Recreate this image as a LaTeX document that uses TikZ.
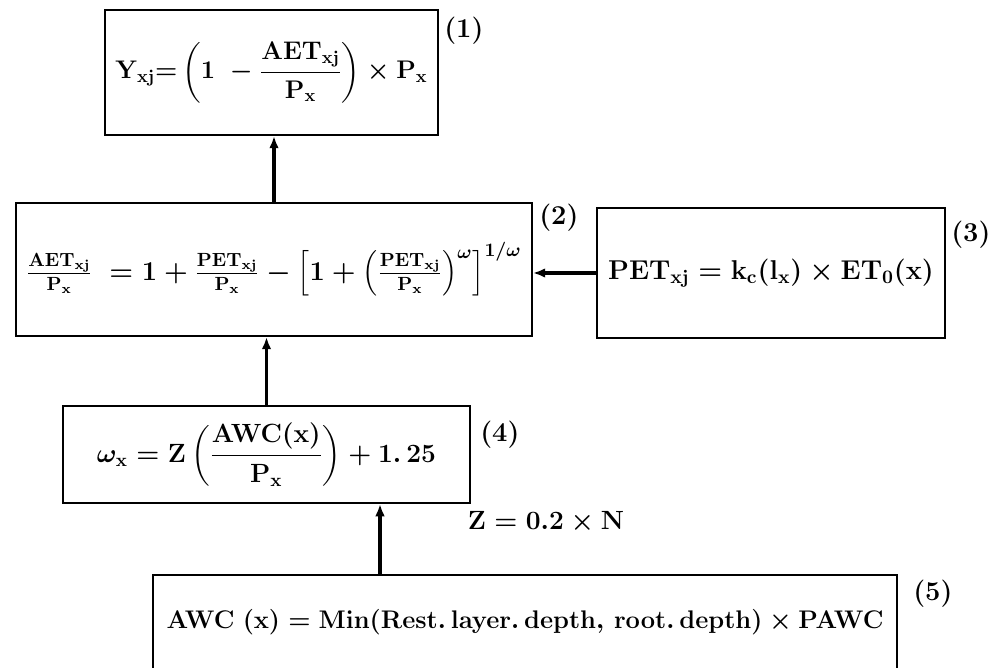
\RequirePackage{fix-cm}
\documentclass[tikz,border=0pt]{standalone}
\usepackage{amsmath}
\usetikzlibrary{arrows.meta,positioning,calc}

\tikzset{
  eqbox/.style={draw, line width=1.1pt, inner sep=0pt, align=center},
  flow/.style={line width=1.8pt, -{Latex[length=7pt,width=5.5pt]}},
  tag/.style={font=\fontsize{15.5}{18}\selectfont\bfseries, inner sep=0pt, anchor=north west},
}

\begin{document}
\begin{tikzpicture}[x=0.02cm,y=-0.02cm]
  \useasboundingbox (0,0) rectangle (1001,668);

  % equation boxes
  \node[eqbox, font=\fontsize{14.5}{17}\selectfont\boldmath,
        minimum width=6.66cm, minimum height=2.5cm] (b1) at (271.5,72.5)
    {$\mathbf{Y_{xj}}{=}\left(\mathbf{1}\ -\dfrac{\mathbf{AET_{xj}}}{\mathbf{P_x}}\right)\times\mathbf{P_x}$};
  \node[eqbox, font=\fontsize{15.5}{18}\selectfont\boldmath,
        minimum width=10.32cm, minimum height=2.66cm] (b2) at (274,269.5)
    {$\tfrac{\mathbf{AET_{xj}}}{\mathbf{P_x}}\ =1+\tfrac{\mathbf{PET_{xj}}}{\mathbf{P_x}}-\left[1+\left(\tfrac{\mathbf{PET_{xj}}}{\mathbf{P_x}}\right)^{\omega}\right]^{1/\omega}$};
  \node[eqbox, font=\fontsize{15.5}{18}\selectfont\boldmath,
        minimum width=6.96cm, minimum height=2.6cm] (b3) at (771,273)
    {$\mathbf{PET_{xj}}=\mathbf{k_c}(\mathbf{l_x})\times\mathbf{ET_0}(\mathbf{x})$};
  \node[eqbox, font=\fontsize{15}{18}\selectfont\boldmath,
        minimum width=8.14cm, minimum height=1.94cm] (b4) at (266.5,454.5)
    {$\omega_{\mathbf{x}}=\mathbf{Z}\left(\dfrac{\mathbf{AWC(x)}}{\mathbf{P_x}}\right)+1.\,25$};
  \node[eqbox, font=\fontsize{14.5}{17}\selectfont\boldmath,
        minimum width=14.88cm, anchor=north, text height=1.08cm, text depth=1.3cm] (b5) at (525,574)
    {$\mathbf{AWC\ (x)=Min(Rest.\,layer.\,depth,\,root.\,depth)\times PAWC}$};

  % equation numbers
  \node[tag] (t1) at ([xshift=0.1cm,yshift=-0.16cm]b1.north east) {(1)};
  \node[tag] (t2) at ([xshift=0.12cm,yshift=-0.04cm]b2.north east) {(2)};
  \node[tag] (t3) at ([xshift=0.1cm,yshift=-0.28cm]b3.north east) {(3)};
  \node[tag] (t4) at ([xshift=0.18cm,yshift=-0.32cm]b4.north east) {(4)};
  \node[tag] (t5) at ([xshift=0.3cm,yshift=-0.12cm]b5.north east) {(5)};
  \node[font=\fontsize{15}{18}\selectfont\boldmath] (zlbl) at (546,522) {$\mathbf{Z=0.2\times N}$};

  % links
  \coordinate (a5) at (380,574);
  \draw[flow] (b2.north) -- (b2.north |- b1.south);
  \draw[flow] (b3.west) -- (b3.west -| b2.east);
  \draw[flow] (b4.north) -- (b4.north |- b2.south);
  \draw[flow] (a5) -- (a5 |- b4.south);
\end{tikzpicture}
\end{document}
